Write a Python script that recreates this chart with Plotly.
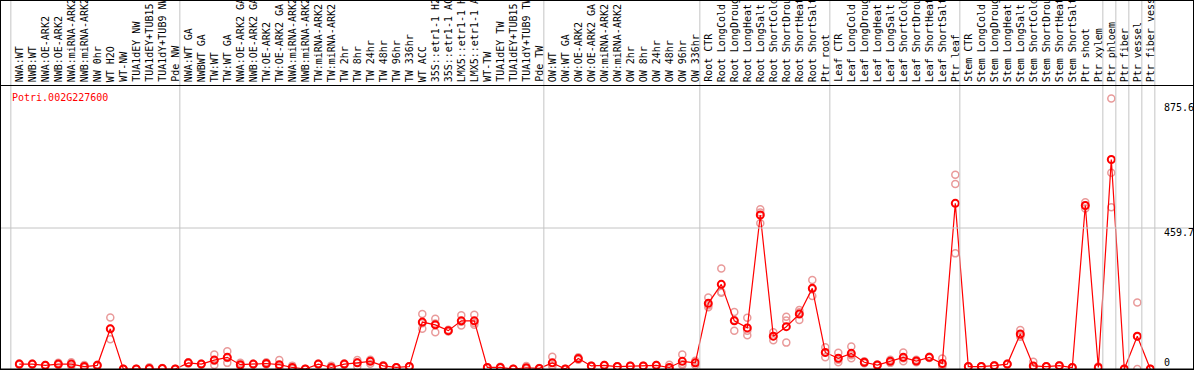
import plotly.graph_objects as go

gene = "Potri.002G227600"

labels = [
    "NWA:WT", "NWB:WT", "NWA:OE-ARK2", "NWB:OE-ARK2", "NWA:miRNA-ARK2", "NWB:miRNA-ARK2",
    "NW 0hr", "WT H2O", "WT-NW", "TUA1dEY NW", "TUA1dEY+TUB15 NW", "TUA1dY+TUB9 NW", "Pde NW",
    "NWA:WT GA", "NWBWT GA", "TW:WT", "TW:WT GA", "NWA:OE-ARK2 GA", "NWB:OE-ARK2 GA",
    "TW:OE-ARK2", "TW:OE-ARK2 GA", "NWA:miRNA-ARK2", "NWB:miRNA-ARK2", "TW:miRNA-ARK2",
    "TW:miRNA-ARK2", "TW 2hr", "TW 8hr", "TW 24hr", "TW 48hr", "TW 96hr", "TW 336hr",
    "WT ACC", "35S::etr1-1 H2O", "35S::etr1-1 ACC", "LMX5::etr1-1 H2O", "LMX5::etr1-1 ACC",
    "WT-TW", "TUA1dEY TW", "TUA1dEY+TUB15 TW", "TUA1dY+TUB9 TW", "Pde TW",
    "OW:WT", "OW:WT GA", "OW:OE-ARK2", "OW:OE-ARK2 GA", "OW:miRNA-ARK2", "OW:miRNA-ARK2",
    "OW 2hr", "OW 8hr", "OW 24hr", "OW 48hr", "OW 96hr", "OW 336hr",
    "Root CTR", "Root LongCold", "Root LongDrought", "Root LongHeat", "Root LongSalt",
    "Root ShortCold", "Root ShortDrought", "Root ShortHeat", "Root ShortSalt", "Ptr root",
    "Leaf CTR", "Leaf LongCold", "Leaf LongDrought", "Leaf LongHeat", "Leaf LongSalt",
    "Leaf ShortCold", "Leaf ShortDrought", "Leaf ShortHeat", "Leaf ShortSalt", "Ptr leaf",
    "Stem CTR", "Stem LongCold", "Stem LongDrought", "Stem LongHeat", "Stem LongSalt",
    "Stem ShortCold", "Stem ShortDrought", "Stem ShortHeat", "Stem ShortSalt", "Ptr shoot",
    "Ptr xylem", "Ptr phloem", "Ptr fiber", "Ptr vessel", "Ptr fiber vessel",
]

group_sizes = [13, 28, 12, 10, 10, 11, 1, 1, 1, 1]

means = [
    16, 16, 12, 16, 16, 8, 12, 131, 0, 0, 2, 2, 0,
    20, 16, 29, 38, 14, 16, 18, 14, 5, 0, 16, 5, 16, 20, 25, 10, 5, 8,
    153, 144, 125, 157, 157, 5, 5, 0, 4, 2,
    20, 0, 34, 10, 12, 8, 10, 10, 12, 5, 25, 20,
    214, 276, 157, 134, 502, 107, 138, 179, 263, 54,
    35, 51, 22, 13, 25, 38, 26, 38, 18, 540,
    8, 8, 11, 16, 114, 10, 8, 11, 5, 533, 5,
    683, 0, 107, 0,
]

replicates = [
    [16, 14, 18], [16, 15, 17], [12, 11, 13], [20, 14, 14], [22, 16, 10], [13, 6, 5],
    [14, 12, 10], [168, 131, 97], [0, 0, 0], [0, 0, 0], [6, 0, 0], [3, 2, 1], [0, 0, 0],
    [22, 20, 18], [17, 16, 15], [47, 27, 13], [58, 36, 20], [20, 12, 10], [17, 16, 15],
    [22, 17, 15], [29, 9, 4], [11, 3, 1], [0, 0, 0], [17, 16, 15], [11, 3, 1],
    [18, 16, 14], [29, 22, 9], [30, 28, 17], [12, 10, 8], [6, 5, 4], [9, 8, 7],
    [179, 149, 131], [164, 148, 120], [128, 125, 122], [175, 154, 142], [177, 150, 144],
    [6, 5, 4], [7, 4, 4], [0, 0, 0], [10, 2, 0], [3, 2, 1],
    [40, 12, 8], [0, 0, 0], [38, 34, 30], [11, 10, 9], [13, 12, 11], [9, 8, 7],
    [11, 10, 9], [11, 10, 9], [13, 12, 11], [14, 1, 0], [47, 16, 12], [27, 20, 13],
    [233, 208, 201], [328, 251, 249], [186, 160, 125], [167, 125, 110], [521, 510, 475],
    [120, 107, 94], [170, 158, 86], [192, 185, 160], [290, 261, 238], [71, 53, 38],
    [53, 30, 22], [73, 45, 35], [25, 22, 19], [15, 13, 11], [30, 25, 20],
    [54, 35, 25], [30, 26, 22], [40, 38, 36], [34, 12, 8], [633, 603, 377],
    [9, 8, 7], [9, 8, 7], [12, 11, 10], [17, 16, 15], [127, 110, 105],
    [24, 4, 2], [9, 8, 7], [12, 11, 10], [6, 5, 4], [544, 533, 523], [8, 4, 3],
    [882, 640, 527], [0, 0, 0], [217, 105, 0], [0, 0, 0],
]

ytick_values = [875.6, 459.7, 0]
ytick_labels = ["875.6", "459.7", "0"]
grid_value = 459.7

FONT = "DejaVu Sans Mono"
W, H = 1194, 370

idx = list(range(len(labels)))

rx, ry = [], []
for i, reps in enumerate(replicates):
    for v in reps:
        rx.append(i)
        ry.append(v)

fig = go.Figure()
fig.add_trace(go.Scatter(
    x=rx, y=ry, mode="markers",
    marker=dict(symbol="circle-open", size=7, color="#E99A9A", line=dict(width=1.5)),
    hoverinfo="skip", showlegend=False, cliponaxis=False,
))
fig.add_trace(go.Scatter(
    x=idx, y=means, mode="lines+markers",
    line=dict(color="#FF0000", width=1.2),
    marker=dict(symbol="circle-open", size=7, color="#FF0000", line=dict(width=2)),
    showlegend=False, cliponaxis=False,
))

shapes = []
b = 0
bounds = [0]
for s in group_sizes:
    b += s
    bounds.append(b)
for bd in bounds:
    shapes.append(dict(type="line", xref="x", yref="paper", x0=bd - 0.65, x1=bd - 0.65,
                       y0=0, y1=1, line=dict(color="#C4C4C4", width=1)))
shapes.append(dict(type="line", xref="paper", yref="y", x0=0, x1=1, y0=grid_value, y1=grid_value,
                   line=dict(color="#C4C4C4", width=1)))
label_line = 1 - 85.5 / H
shapes.append(dict(type="line", xref="paper", yref="paper", x0=0, x1=1, y0=label_line, y1=label_line,
                   line=dict(color="black", width=1)))
shapes.append(dict(type="line", xref="paper", yref="y", x0=0, x1=1, y0=0, y1=0,
                   line=dict(color="black", width=1)))
shapes.append(dict(type="rect", xref="paper", yref="paper", x0=0, x1=1, y0=0, y1=1,
                   line=dict(color="black", width=2)))

annotations = []
lab_y = 1 - 83 / H
for i, lab in enumerate(labels):
    annotations.append(dict(x=i, xref="x", y=lab_y, yref="paper", text=lab, showarrow=False,
                            textangle=-90, xanchor="center", yanchor="bottom",
                            font=dict(family=FONT, size=10, color="black"), borderpad=0))
annotations.append(dict(x=10 / W, xref="paper", y=1 - 97.5 / H, yref="paper", text=gene,
                        showarrow=False, xanchor="left", yanchor="middle",
                        font=dict(family=FONT, size=10, color="#FF0000")))
yshifts = [-7, -4.5, 7]
for v, t, sh in zip(ytick_values, ytick_labels, yshifts):
    annotations.append(dict(x=1162 / W, xref="paper", y=v, yref="y", text=t, showarrow=False,
                            xanchor="left", yanchor="middle", yshift=sh,
                            font=dict(family=FONT, size=10, color="black")))

x0px, step = 19.3, 13.0
k = (369 - 228) / grid_value
fig.update_layout(
    width=W, height=H, margin=dict(l=0, r=0, t=0, b=0),
    paper_bgcolor="white", plot_bgcolor="white",
    xaxis=dict(range=[-x0px / step, (W - x0px) / step], visible=False, showgrid=False, zeroline=False),
    yaxis=dict(range=[-(H - 369) / k, 369 / k], visible=False, showgrid=False, zeroline=False),
    shapes=shapes, annotations=annotations,
)

fig.write_html(
    "out.html",
    config={"displayModeBar": False},
    post_script="document.body.style.margin='0';document.body.style.overflow='hidden';",
)
